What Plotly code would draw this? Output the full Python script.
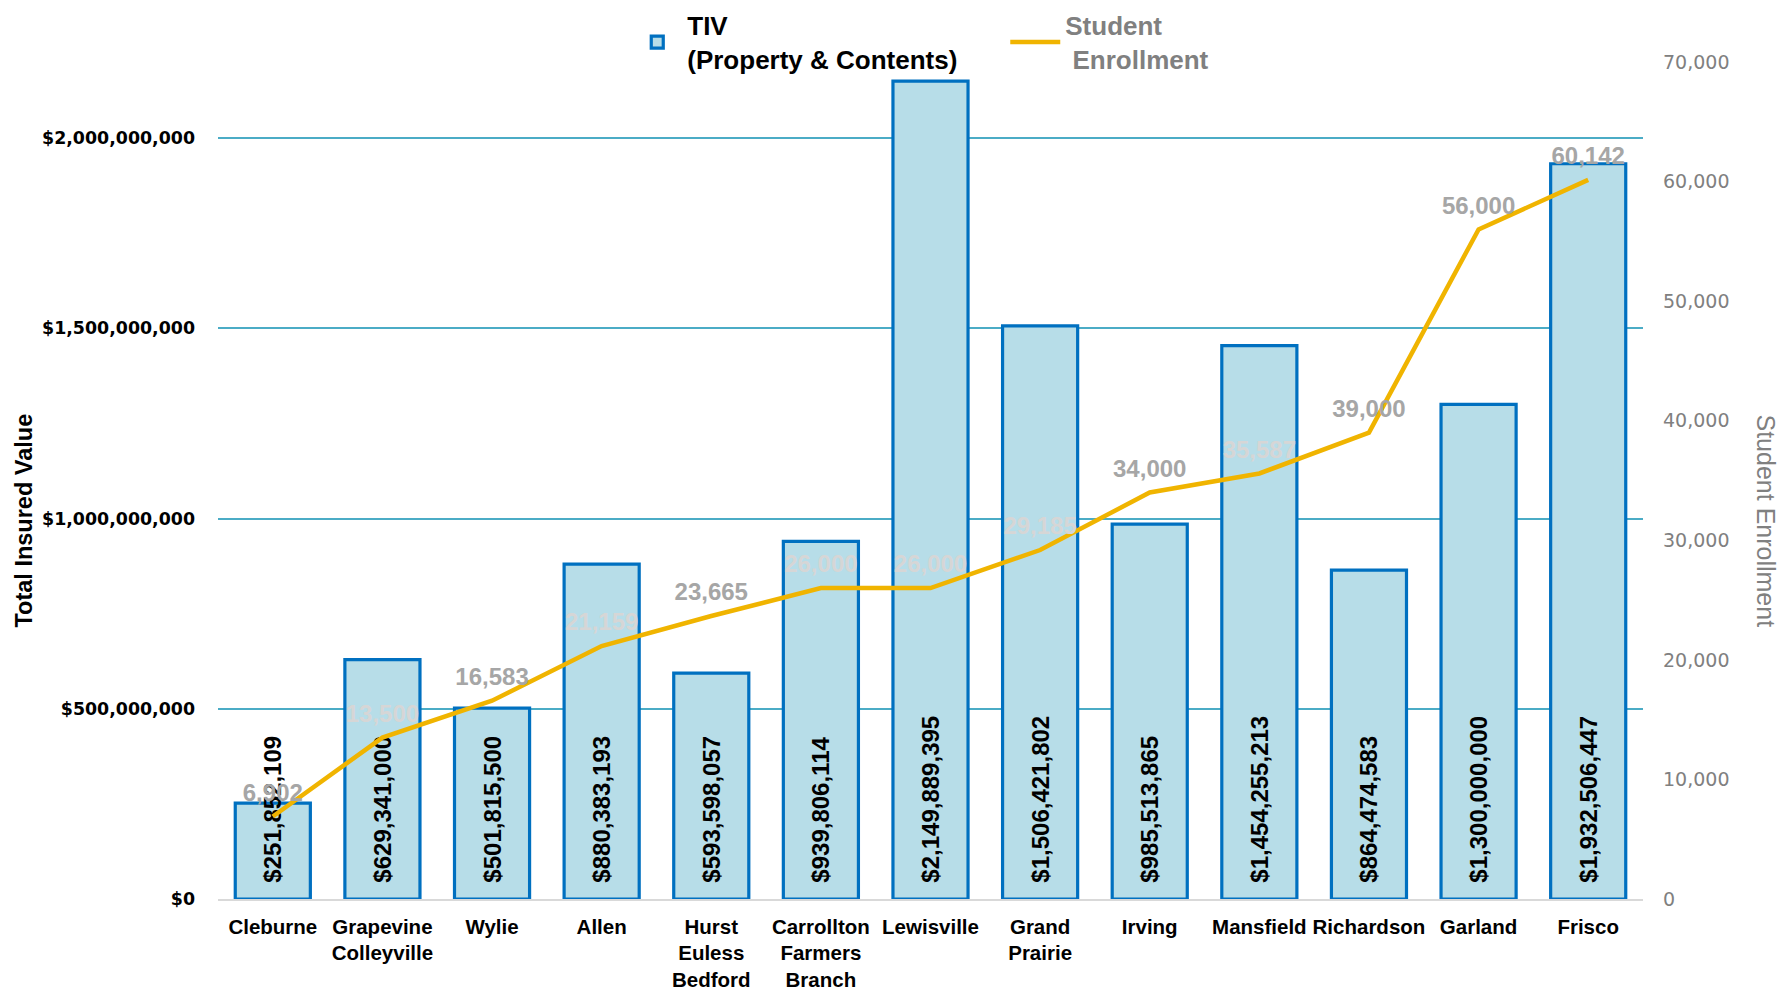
import plotly.graph_objects as go

districts = ["Cleburne", "Grapevine<br>Colleyville", "Wylie", "Allen", "Hurst<br>Euless<br>Bedford",
             "Carrollton<br>Farmers<br>Branch", "Lewisville", "Grand<br>Prairie", "Irving", "Mansfield",
             "Richardson", "Garland", "Frisco"]
tiv = [251852109, 629341000, 501815500, 880383193, 593598057, 939806114, 2149889395,
       1506421802, 985513865, 1454255213, 864474583, 1300000000, 1932506447]
enrollment = [6902, 13500, 16583, 21159, 23665, 26000, 26000, 29185, 34000, 35587, 39000, 56000, 60142]

left_ticks = [0, 500000000, 1000000000, 1500000000, 2000000000]
left_ticktext = ["$0", "$500,000,000", "$1,000,000,000", "$1,500,000,000", "$2,000,000,000"]
right_ticks = [0, 10000, 20000, 30000, 40000, 50000, 60000, 70000]

Y1_MAX = 2.2e9
Y2_MAX = 70000
# enrollment labels that sit over a bar appear paler
label_offset = 0.08e9
label_colors = ["#d6d6d6" if (e / Y2_MAX * Y1_MAX + label_offset) < t else "#a6a6a6"
                for e, t in zip(enrollment, tiv)]

fig = go.Figure()
fig.add_trace(go.Bar(
    x=districts, y=tiv,
    name="<b>TIV<br>(Property & Contents)</b>",
    marker=dict(color="#b7dde8", line=dict(color="#0070c0", width=3.2)),
    texttemplate="\u00a0\u00a0<b>$%{y:,.0f}</b>",
    textposition="inside", insidetextanchor="start", textangle=-90,
    textfont=dict(family="Liberation Sans, Arial", size=24, color="black"),
    cliponaxis=False,
))
fig.add_trace(go.Scatter(
    x=districts, y=enrollment, yaxis="y2", mode="lines+markers+text",
    name="<span style='color:#808080'><b>Student<br> Enrollment</b></span>",
    line=dict(color="#f0b400", width=4.5),
    marker=dict(size=14, color="rgba(0,0,0,0)"),
    text=[f"{v:,}" for v in enrollment], textposition="top center",
    textfont=dict(family="Liberation Sans, Arial", size=24, color=label_colors, weight="bold"),
    cliponaxis=False,
))

fig.update_layout(
    width=1784, height=983,
    paper_bgcolor="white", plot_bgcolor="white",
    margin=dict(l=210, r=149, t=54, b=92, autoexpand=False),
    bargap=0.315,
    uniformtext=dict(minsize=24, mode="show"),
    font=dict(family="Liberation Sans, Arial", color="black"),
    legend=dict(orientation="h", x=0.559, xanchor="center", xref="container",
                y=1.072, yanchor="top", yref="paper",
                font=dict(size=26, family="Liberation Sans, Arial"),
                itemwidth=50, tracegroupgap=0, entrywidth=313, bgcolor="rgba(0,0,0,0)"),
    xaxis=dict(range=[-0.5, len(districts) - 0.5], showgrid=False, showline=True,
               linecolor="#d9d9d9", linewidth=2,
               tickfont=dict(size=20.5, family="Liberation Sans, Arial", weight="bold", color="black"),
               ticks="", tickangle=0, ticklabelstandoff=8, automargin=False),
    yaxis=dict(range=[0, Y1_MAX], tickvals=left_ticks, ticktext=left_ticktext,
               showgrid=True, gridcolor="#4bacc6", gridwidth=1.5, zeroline=False,
               tickfont=dict(size=17.4, family="DejaVu Sans", weight="bold", color="black"),
               ticklabelstandoff=22, automargin=False),
    yaxis2=dict(range=[0, Y2_MAX], tickvals=right_ticks, overlaying="y", side="right",
                showgrid=False, zeroline=False, tickformat=",",
                tickfont=dict(size=19, family="DejaVu Sans", color="#808080"),
                ticklabelstandoff=19, automargin=False),
    annotations=[
        dict(text="<b>Total Insured Value</b>", xref="paper", yref="paper", x=0, y=0.5,
             xshift=-195, yshift=-40, textangle=-90, showarrow=False,
             xanchor="center", yanchor="middle",
             font=dict(size=23.5, family="Liberation Sans, Arial", color="black")),
        dict(text="Student Enrollment", xref="paper", yref="paper", x=1, y=0.5,
             xshift=123, yshift=-40, textangle=90, showarrow=False,
             xanchor="center", yanchor="middle",
             font=dict(size=25, family="Liberation Sans, Arial", color="#808080")),
    ],
)

fig.write_html("out.html")
